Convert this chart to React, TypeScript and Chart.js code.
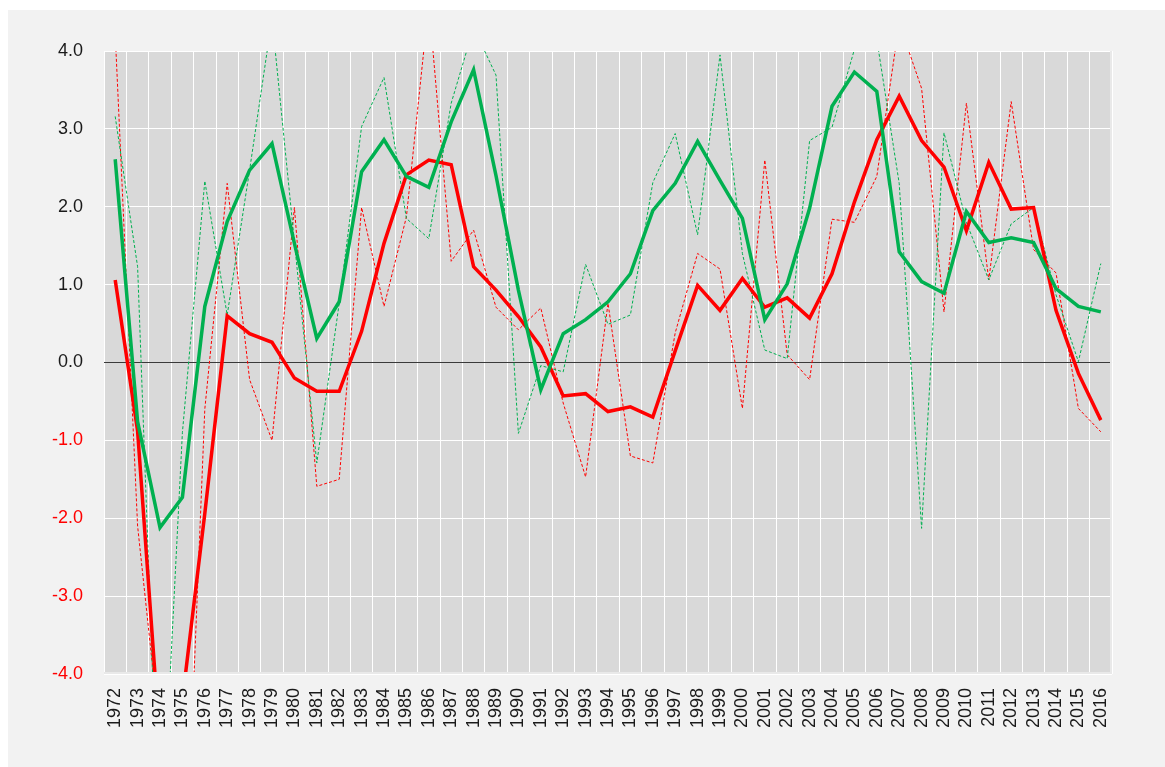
import React, { useEffect, useRef } from "react";
import { Chart, registerables } from "chart.js";

Chart.register(...registerables);

const years: string[] = [
  "1972", "1973", "1974", "1975", "1976", "1977", "1978", "1979", "1980", "1981",
  "1982", "1983", "1984", "1985", "1986", "1987", "1988", "1989", "1990", "1991",
  "1992", "1993", "1994", "1995", "1996", "1997", "1998", "1999", "2000", "2001",
  "2002", "2003", "2004", "2005", "2006", "2007", "2008", "2009", "2010", "2011",
  "2012", "2013", "2014", "2015", "2016",
];

const redAnnual: number[] = [
  4.22, -2.1, -4.8, -7.7, -0.6, 2.3, -0.22, -1.0, 1.99, -1.59,
  -1.5, 1.99, 0.72, 1.87, 4.62, 1.3, 1.7, 0.71, 0.42, 0.7,
  -0.52, -1.47, 0.76, -1.2, -1.29, 0.38, 1.4, 1.2, -0.59, 2.6,
  0.1, -0.22, 1.84, 1.8, 2.39, 4.36, 3.52, 0.65, 3.33, 1.06,
  3.35, 1.45, 1.15, -0.59, -0.89,
];

const greenAnnual: number[] = [
  3.16, 1.23, -6.6, -0.9, 2.33, 0.61, 2.47, 4.42, 1.55, -1.29,
  0.76, 3.03, 3.66, 1.85, 1.59, 3.33, 4.3, 3.69, -0.91, -0.04,
  -0.12, 1.26, 0.49, 0.61, 2.31, 2.94, 1.64, 3.95, 1.4, 0.16,
  0.05, 2.85, 3.02, 4.02, 4.15, 2.3, -2.13, 2.95, 1.8, 1.06,
  1.78, 1.99, 0.87, 0.01, 1.27,
];

const redAverage: number[] = [
  1.06, -0.88, -4.9, -4.33, -1.94, 0.6, 0.37, 0.26, -0.2, -0.37,
  -0.37, 0.4, 1.53, 2.41, 2.6, 2.54, 1.23, 0.93, 0.59, 0.2,
  -0.43, -0.4, -0.63, -0.57, -0.7, 0.15, 0.99, 0.67, 1.08, 0.71,
  0.83, 0.57, 1.14, 2.06, 2.86, 3.42, 2.85, 2.51, 1.69, 2.57,
  1.97, 1.99, 0.67, -0.14, -0.74,
];

const greenAverage: number[] = [
  2.61, -0.76, -2.12, -1.73, 0.72, 1.81, 2.47, 2.81, 1.53, 0.31,
  0.78, 2.45, 2.86, 2.39, 2.25, 3.09, 3.76, 2.4, 0.93, -0.35,
  0.37, 0.55, 0.78, 1.14, 1.95, 2.3, 2.84, 2.34, 1.85, 0.55,
  1.01, 1.98, 3.29, 3.73, 3.48, 1.42, 1.04, 0.89, 1.94, 1.54,
  1.6, 1.54, 0.95, 0.72, 0.65,
];

const yTickMin = -4;
const yTickMax = 4;
const yTickStep = 1;

const RED = "#ff0000";
const GREEN = "#00b050";
const FONT = "'Liberation Sans Narrow', 'Arial Narrow', 'Liberation Sans', Arial, sans-serif";

const W = 1157;
const H = 757;

const plotBg = {
  id: "plotBg",
  beforeDraw(chart: any) {
    const { ctx, chartArea } = chart;
    ctx.save();
    ctx.fillStyle = "#d9d9d9";
    ctx.fillRect(chartArea.left, chartArea.top, chartArea.right - chartArea.left, chartArea.bottom - chartArea.top);
    ctx.restore();
  },
  afterDatasetsDraw(chart: any) {
    const { ctx, chartArea } = chart;
    ctx.save();
    ctx.strokeStyle = "#e9e9e9";
    ctx.lineWidth = 2;
    ctx.beginPath();
    ctx.moveTo(chartArea.right - 1, chartArea.top);
    ctx.lineTo(chartArea.right - 1, chartArea.bottom - 1);
    ctx.lineTo(chartArea.left, chartArea.bottom - 1);
    ctx.stroke();
    ctx.restore();
  },
};

export default function App() {
  const ref = useRef<HTMLCanvasElement | null>(null);

  useEffect(() => {
    if (!ref.current) return;
    const chart = new Chart(ref.current, {
      type: "line",
      data: {
        labels: years,
        datasets: [
          {
            label: "Green average",
            data: greenAverage,
            borderColor: GREEN,
            borderWidth: 3.5,
            pointRadius: 0,
            tension: 0,
            clip: 0,
            order: 0,
          },
          {
            label: "Red average",
            data: redAverage,
            borderColor: RED,
            borderWidth: 3.5,
            pointRadius: 0,
            tension: 0,
            clip: 0,
            order: 1,
          },
          {
            label: "Green annual",
            data: greenAnnual,
            borderColor: GREEN,
            borderWidth: 1,
            borderDash: [3, 2],
            pointRadius: 0,
            tension: 0,
            clip: 0,
            order: 2,
          },
          {
            label: "Red annual",
            data: redAnnual,
            borderColor: RED,
            borderWidth: 1,
            borderDash: [3, 2],
            pointRadius: 0,
            tension: 0,
            clip: 0,
            order: 3,
          },
        ],
      },
      options: {
        animation: false,
        responsive: false,
        devicePixelRatio: 1,
        layout: { padding: { left: 0, right: W - 1104, top: 41, bottom: 0 } },
        plugins: {
          legend: { display: false },
          tooltip: { enabled: false },
          title: { display: false },
        },
        scales: {
          x: {
            type: "category",
            offset: true,
            grid: {
              offset: true,
              color: "#ffffff",
              lineWidth: 1,
              drawTicks: false,
            },
            border: { display: false },
            ticks: {
              autoSkip: false,
              maxRotation: 90,
              minRotation: 90,
              padding: 14,
              color: "#1a1a1a",
              font: { family: FONT, size: 18 },
            },
            afterFit(scale: any) {
              scale.height = H - 664;
            },
          },
          y: {
            min: yTickMin,
            max: yTickMax,
            ticks: {
              stepSize: yTickStep,
              padding: 21,
              color: (ctx: any) => (ctx.tick && ctx.tick.value < 0 ? RED : "#1a1a1a"),
              font: { family: FONT, size: 18 },
              callback: (v: any) => Number(v).toFixed(1),
            },
            grid: {
              color: (ctx: any) => (ctx.tick && ctx.tick.value === 0 ? "#3a3a3a" : "#ffffff"),
              lineWidth: 1,
              drawTicks: false,
            },
            border: { display: false },
            afterFit(scale: any) {
              scale.width = 96;
            },
          },
        },
      },
      plugins: [plotBg],
    });
    return () => chart.destroy();
  }, []);

  return (
    <div
      style={{
        position: "absolute",
        left: 8,
        top: 10,
        width: W,
        height: H,
        background: "#f2f2f2",
      }}
    >
      <canvas ref={ref} width={W} height={H} style={{ width: W, height: H, display: "block" }} />
    </div>
  );
}
